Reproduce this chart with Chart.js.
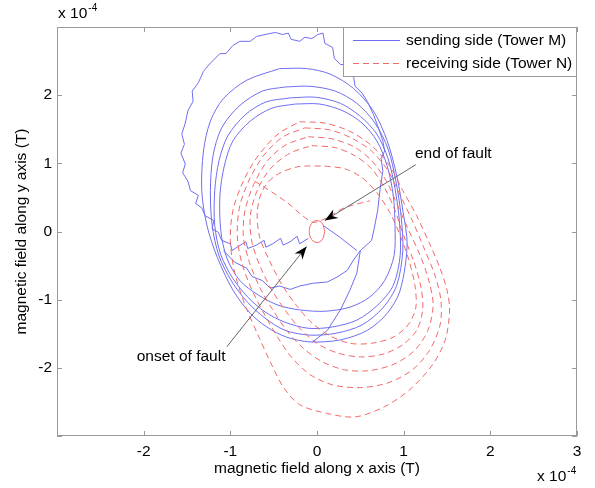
<!DOCTYPE html>
<html>
<head>
<meta charset="utf-8">
<script src="https://cdn.jsdelivr.net/npm/chart.js@4.4.1/dist/chart.umd.min.js"></script>
<style>
  html, body { margin: 0; padding: 0; background: #fff; }
</style>
</head>
<body>
<canvas id="fieldChart" width="595" height="488"></canvas>
<script>
// axis ticks (units of 1e-4 T)
const xTicks = [-3, -2, -1, 0, 1, 2, 3];
const yTicks = [-3, -2, -1, 0, 1, 2, 3];
const xTitle = "magnetic field along x axis (T)";
const yTitle = "magnetic field along y axis (T)";
const seriesNames = ["sending side (Tower M)", "receiving side (Tower N)"];

// sending side (Tower M) traces, [x, y]
const sendOuter = [
  [-0.10, -0.10], [-0.20, -0.18], [-0.23, -0.07], [-0.31, -0.15], [-0.39, -0.20], [-0.42, -0.10],
  [-0.51, -0.18], [-0.59, -0.23], [-0.61, -0.13], [-0.70, -0.20], [-0.80, -0.25], [-0.82, -0.15],
  [-0.91, -0.22], [-0.98, -0.28], [-1.00, -0.18], [-1.10, -0.13], [-1.14, -0.01], [-1.21, 0.04],
  [-1.19, 0.16], [-1.29, 0.23], [-1.33, 0.35], [-1.40, 0.41], [-1.37, 0.53], [-1.46, 0.60],
  [-1.49, 0.74], [-1.55, 0.86], [-1.52, 0.99], [-1.57, 1.15], [-1.53, 1.28], [-1.56, 1.43],
  [-1.52, 1.59], [-1.49, 1.77], [-1.43, 1.91], [-1.44, 2.06], [-1.37, 2.18], [-1.31, 2.35],
  [-1.23, 2.47], [-1.12, 2.61], [-1.05, 2.61], [-0.97, 2.73], [-0.89, 2.79], [-0.77, 2.79],
  [-0.70, 2.86], [-0.60, 2.89], [-0.48, 2.92], [-0.40, 2.89], [-0.33, 2.91], [-0.30, 2.82],
  [-0.20, 2.79], [-0.14, 2.85], [-0.06, 2.83], [0.01, 2.89], [0.07, 2.91], [0.09, 2.76],
  [0.18, 2.70], [0.20, 2.54], [0.27, 2.45], [0.40, 2.45], [0.44, 2.13], [0.52, 2.03],
  [0.58, 1.91], [0.65, 1.72], [0.70, 1.55], [0.76, 1.33], [0.78, 1.18], [0.74, 1.07],
  [0.76, 0.89], [0.73, 0.64], [0.70, 0.31], [0.66, 0.04], [0.63, -0.13], [0.50, -0.28],
  [0.46, -0.61], [0.38, -0.86], [0.27, -1.15], [0.12, -1.45], [-0.05, -1.62]
];
const sendChord = [[0.07, 0.09], [0.27, -0.09], [0.46, -0.28]];
const sendInner = [
  [-1.08, -0.28], [-0.95, -0.45], [-0.81, -0.54], [-0.75, -0.66], [-0.63, -0.72], [-0.54, -0.83],
  [-0.43, -0.80], [-0.31, -0.85], [-0.20, -0.80], [-0.05, -0.76], [0.12, -0.74], [0.23, -0.67],
  [0.35, -0.57], [0.42, -0.42], [0.50, -0.28]
];
const sendLoop1 = [
  [-0.43, 2.39], [-0.12, 2.39], [0.15, 2.31], [0.42, 2.10], [0.65, 1.77], [0.81, 1.33], [0.92, 0.82],
  [0.99, 0.31], [1.04, -0.20], [0.96, -0.86], [0.81, -1.20], [0.58, -1.45], [0.27, -1.59], [-0.08, -1.62],
  [-0.35, -1.55], [-0.58, -1.40], [-0.77, -1.20], [-0.97, -0.86], [-1.15, -0.38], [-1.27, 0.09],
  [-1.33, 0.60], [-1.31, 1.18], [-1.23, 1.62], [-1.08, 1.95], [-0.81, 2.22], [-0.43, 2.39]
];
const sendLoop2 = [
  [-0.37, 2.12], [-0.08, 2.13], [0.21, 2.06], [0.46, 1.88], [0.67, 1.59], [0.82, 1.21], [0.91, 0.74],
  [0.97, 0.23], [0.99, -0.28], [0.92, -0.79], [0.76, -1.12], [0.52, -1.37], [0.23, -1.49], [-0.08, -1.52],
  [-0.37, -1.45], [-0.60, -1.27], [-0.80, -1.04], [-0.98, -0.74], [-1.13, -0.36], [-1.21, 0.09],
  [-1.23, 0.60], [-1.20, 1.11], [-1.10, 1.52], [-0.89, 1.85], [-0.63, 2.06], [-0.37, 2.12]
];
const sendLoop3 = [
  [-0.31, 1.96], [-0.02, 1.97], [0.27, 1.88], [0.50, 1.69], [0.69, 1.43], [0.82, 1.07], [0.90, 0.63],
  [0.95, 0.16], [0.96, -0.35], [0.88, -0.79], [0.70, -1.08], [0.46, -1.30], [0.18, -1.40], [-0.10, -1.42],
  [-0.37, -1.33], [-0.60, -1.18], [-0.80, -0.96], [-0.97, -0.69], [-1.11, -0.34], [-1.18, 0.09],
  [-1.18, 0.60], [-1.13, 1.04], [-1.03, 1.40], [-0.83, 1.71], [-0.59, 1.90], [-0.31, 1.96]
];
const sendLoop4 = [
  [-0.25, 1.87], [0.03, 1.87], [0.30, 1.77], [0.52, 1.59], [0.69, 1.33], [0.81, 0.96], [0.88, 0.53],
  [0.90, 0.09], [0.89, -0.35], [0.78, -0.72], [0.61, -0.96], [0.38, -1.11], [0.09, -1.17], [-0.20, -1.15],
  [-0.45, -1.08], [-0.68, -0.93], [-0.89, -0.72], [-1.04, -0.39], [-1.11, 0.01], [-1.12, 0.53],
  [-1.07, 0.96], [-0.97, 1.33], [-0.77, 1.62], [-0.52, 1.81], [-0.25, 1.87]
];

// receiving side (Tower N) traces, [x, y]
const recvLoop1 = [
  [-0.20, 1.61], [0.09, 1.59], [0.38, 1.47], [0.63, 1.26], [0.84, 0.96], [0.99, 0.60], [1.15, 0.23],
  [1.30, -0.18], [1.42, -0.54], [1.50, -0.86], [1.53, -1.15], [1.48, -1.59], [1.33, -1.96], [1.07, -2.32],
  [0.78, -2.57], [0.44, -2.72], [0.12, -2.67], [-0.20, -2.54], [-0.39, -2.28], [-0.54, -1.91],
  [-0.68, -1.52], [-0.83, -1.08], [-0.95, -0.60], [-1.00, -0.13], [-0.97, 0.31], [-0.85, 0.74],
  [-0.68, 1.11], [-0.45, 1.43], [-0.20, 1.61]
];
const recvLoop2 = [
  [-0.14, 1.52], [0.15, 1.49], [0.40, 1.37], [0.63, 1.18], [0.82, 0.89], [0.96, 0.53], [1.10, 0.16],
  [1.23, -0.23], [1.36, -0.64], [1.43, -1.01], [1.42, -1.37], [1.30, -1.74], [1.10, -2.03], [0.82, -2.22],
  [0.50, -2.29], [0.18, -2.25], [-0.08, -2.10], [-0.29, -1.85], [-0.45, -1.56], [-0.60, -1.23],
  [-0.75, -0.86], [-0.87, -0.45], [-0.92, -0.06], [-0.89, 0.38], [-0.77, 0.79], [-0.60, 1.14],
  [-0.39, 1.39], [-0.14, 1.52]
];
const recvLoop3 = [
  [-0.10, 1.39], [0.17, 1.36], [0.43, 1.24], [0.63, 1.04], [0.80, 0.74], [0.92, 0.41], [1.05, 0.04],
  [1.19, -0.35], [1.29, -0.72], [1.34, -1.08], [1.28, -1.45], [1.13, -1.74], [0.90, -1.94], [0.61, -2.04],
  [0.32, -2.03], [0.06, -1.91], [-0.16, -1.71], [-0.35, -1.45], [-0.51, -1.15], [-0.66, -0.82],
  [-0.78, -0.45], [-0.85, -0.07], [-0.83, 0.31], [-0.73, 0.69], [-0.57, 1.04], [-0.36, 1.27], [-0.10, 1.39]
];
const recvLoop4 = [
  [-0.06, 1.26], [0.21, 1.23], [0.44, 1.11], [0.63, 0.92], [0.78, 0.64], [0.90, 0.31], [1.00, -0.06],
  [1.12, -0.45], [1.20, -0.82], [1.22, -1.15], [1.15, -1.45], [0.99, -1.66], [0.76, -1.80], [0.50, -1.84],
  [0.23, -1.78], [0.00, -1.64], [-0.20, -1.42], [-0.37, -1.15], [-0.52, -0.86], [-0.65, -0.53],
  [-0.75, -0.16], [-0.77, 0.23], [-0.69, 0.60], [-0.54, 0.92], [-0.31, 1.15], [-0.06, 1.26]
];
const recvLoop5 = [
  [0.09, 0.96], [0.32, 0.92], [0.52, 0.79], [0.69, 0.57], [0.84, 0.28], [0.96, -0.06], [1.06, -0.42],
  [1.13, -0.79], [1.14, -1.12], [1.05, -1.37], [0.88, -1.55], [0.63, -1.64], [0.38, -1.64], [0.15, -1.53],
  [-0.06, -1.34], [-0.24, -1.08], [-0.40, -0.79], [-0.54, -0.45], [-0.66, -0.09], [-0.69, 0.28],
  [-0.63, 0.60], [-0.48, 0.82], [-0.22, 0.95], [0.09, 0.96]
];
const recvChord = [[-0.72, 0.74], [-0.37, 0.45], [-0.06, 0.14], [0.08, 0.18], [0.32, 0.35], [0.61, 0.45]];
const recvCircle = [
  [0.09, 0], [0.06, 0.12], [0, 0.16], [-0.06, 0.12], [-0.09, 0], [-0.06, -0.12], [0, -0.16], [0.06, -0.12], [0.09, 0]
];

// annotations: text anchor and arrow (tail -> tip), in data units
const notes = [
  { text: "end of fault", at: [1.13, 1.14], tail: [1.14, 0.98], tip: [0.09, 0.16] },
  { text: "onset of fault", at: [-2.08, -1.84], tail: [-1.04, -1.69], tip: [-0.12, -0.22] }
];

const blue = "rgb(110, 110, 240)";
const red = "rgb(242, 105, 105)";
const axisGray = "#9a9a9a";
const fontFamily = "'Liberation Sans', Arial, Helvetica, sans-serif";
const fontPx = 15.5;

Chart.defaults.font.family = fontFamily;
Chart.defaults.font.size = fontPx;
Chart.defaults.color = "#000";

const toPts = arr => arr.map(([x, y]) => ({ x, y }));

const recvSets = [recvLoop1, recvLoop2, recvLoop3, recvLoop4, recvLoop5, recvChord].map(d => ({
  data: toPts(d), borderColor: red, borderWidth: 1, borderDash: [6, 4], tension: 0.3
}));
recvSets.push({ data: toPts(recvCircle), borderColor: red, borderWidth: 1, tension: 0.4 });

const sendSets = [sendLoop1, sendLoop2, sendLoop3, sendLoop4].map(d => ({
  data: toPts(d), borderColor: blue, borderWidth: 1, tension: 0.3
}));
[sendOuter, sendChord, sendInner].forEach(d => {
  sendSets.push({ data: toPts(d), borderColor: blue, borderWidth: 1, tension: 0 });
});

function drawArrow(ctx, x0, y0, x1, y1) {
  const ang = Math.atan2(y1 - y0, x1 - x0);
  ctx.strokeStyle = "#666";
  ctx.lineWidth = 1;
  ctx.setLineDash([]);
  ctx.beginPath();
  ctx.moveTo(x0, y0);
  ctx.lineTo(x1, y1);
  ctx.stroke();
  ctx.save();
  ctx.translate(x1, y1);
  ctx.rotate(ang);
  ctx.fillStyle = "#000";
  ctx.beginPath();
  ctx.moveTo(0, 0);
  ctx.lineTo(-13, -5);
  ctx.lineTo(-9, 0);
  ctx.lineTo(-13, 5);
  ctx.closePath();
  ctx.fill();
  ctx.restore();
}

// MATLAB style box, inward ticks, legend, labels and notes
const matlabLook = {
  id: "matlabLook",
  afterDatasetsDraw(chart) {
    const { ctx, chartArea: a, scales: { x, y } } = chart;
    const font = fontPx + "px " + fontFamily;
    ctx.save();
    ctx.setLineDash([]);
    ctx.strokeStyle = axisGray;
    ctx.lineWidth = 1;
    ctx.strokeRect(a.left + 0.5, a.top + 0.5, a.right - a.left - 1, a.bottom - a.top - 1);
    ctx.beginPath();
    xTicks.forEach(v => {
      const px = Math.round(x.getPixelForValue(v)) + 0.5;
      ctx.moveTo(px, a.bottom); ctx.lineTo(px, a.bottom - 5);
      ctx.moveTo(px, a.top); ctx.lineTo(px, a.top + 5);
    });
    yTicks.forEach(v => {
      const py = Math.round(y.getPixelForValue(v)) + 0.5;
      ctx.moveTo(a.left, py); ctx.lineTo(a.left + 5, py);
      ctx.moveTo(a.right, py); ctx.lineTo(a.right - 5, py);
    });
    ctx.stroke();

    // legend box
    const lw = 234, lh = 50;
    const lx = a.right - lw, ly = a.top;
    ctx.fillStyle = "#fff";
    ctx.fillRect(lx, ly, lw, lh);
    ctx.strokeStyle = axisGray;
    ctx.strokeRect(lx + 0.5, ly + 0.5, lw - 1, lh - 1);
    ctx.font = font;
    ctx.textBaseline = "middle";
    ctx.textAlign = "left";
    [[blue, []], [red, [6, 4]]].forEach(([col, dash], i) => {
      const yy = ly + 13.5 + i * 23;
      ctx.strokeStyle = col;
      ctx.setLineDash(dash);
      ctx.beginPath();
      ctx.moveTo(lx + 10, yy);
      ctx.lineTo(lx + 57, yy);
      ctx.stroke();
      ctx.fillStyle = "#000";
      ctx.fillText(seriesNames[i], lx + 63, yy);
    });
    ctx.setLineDash([]);

    // notes with arrows
    notes.forEach(n => {
      ctx.fillStyle = "#000";
      ctx.font = font;
      ctx.textAlign = "left";
      ctx.textBaseline = "middle";
      ctx.fillText(n.text, x.getPixelForValue(n.at[0]), y.getPixelForValue(n.at[1]));
      drawArrow(ctx,
        x.getPixelForValue(n.tail[0]), y.getPixelForValue(n.tail[1]),
        x.getPixelForValue(n.tip[0]), y.getPixelForValue(n.tip[1]));
    });

    // axis titles
    ctx.fillStyle = "#000";
    ctx.font = font;
    ctx.textAlign = "center";
    ctx.textBaseline = "middle";
    ctx.fillText(xTitle, (a.left + a.right) / 2, a.bottom + 33);
    ctx.save();
    ctx.translate(a.left - 35, (a.top + a.bottom) / 2);
    ctx.rotate(-Math.PI / 2);
    ctx.fillText(yTitle, 0, 0);
    ctx.restore();

    // exponent labels
    const drawExp = (left, mid) => {
      ctx.textAlign = "left";
      ctx.font = font;
      ctx.fillText("x 10", left, mid);
      const w = ctx.measureText("x 10").width;
      ctx.font = "10px " + fontFamily;
      ctx.fillText("-4", left + w + 1, mid - 6);
    };
    drawExp(a.left + 1, a.top - 13);
    drawExp(a.right - 40, a.bottom + 41);
    ctx.restore();
  }
};

new Chart(document.getElementById("fieldChart"), {
  type: "scatter",
  data: { datasets: recvSets.concat(sendSets) },
  options: {
    responsive: false,
    animation: false,
    showLine: true,
    elements: { point: { radius: 0 } },
    layout: { padding: { left: 0, top: 27, right: 18, bottom: 0 } },
    plugins: { legend: { display: false }, tooltip: { enabled: false } },
    scales: {
      x: {
        type: "linear", min: -3, max: 3,
        afterBuildTicks: s => { s.ticks = xTicks.map(v => ({ value: v })); },
        afterFit: s => { s.height = 52; },
        ticks: { padding: 6, autoSkip: false, maxRotation: 0, callback: v => (v === -3 ? "" : v) },
        grid: { display: false, drawTicks: false },
        border: { display: false }
      },
      y: {
        type: "linear", min: -3, max: 3,
        afterBuildTicks: s => { s.ticks = yTicks.map(v => ({ value: v })); },
        afterFit: s => { s.width = 57; },
        ticks: { padding: 5, autoSkip: false, callback: v => (v === -3 || v === 3 ? "" : v) },
        grid: { display: false, drawTicks: false },
        border: { display: false }
      }
    }
  },
  plugins: [matlabLook]
});
</script>
</body>
</html>
